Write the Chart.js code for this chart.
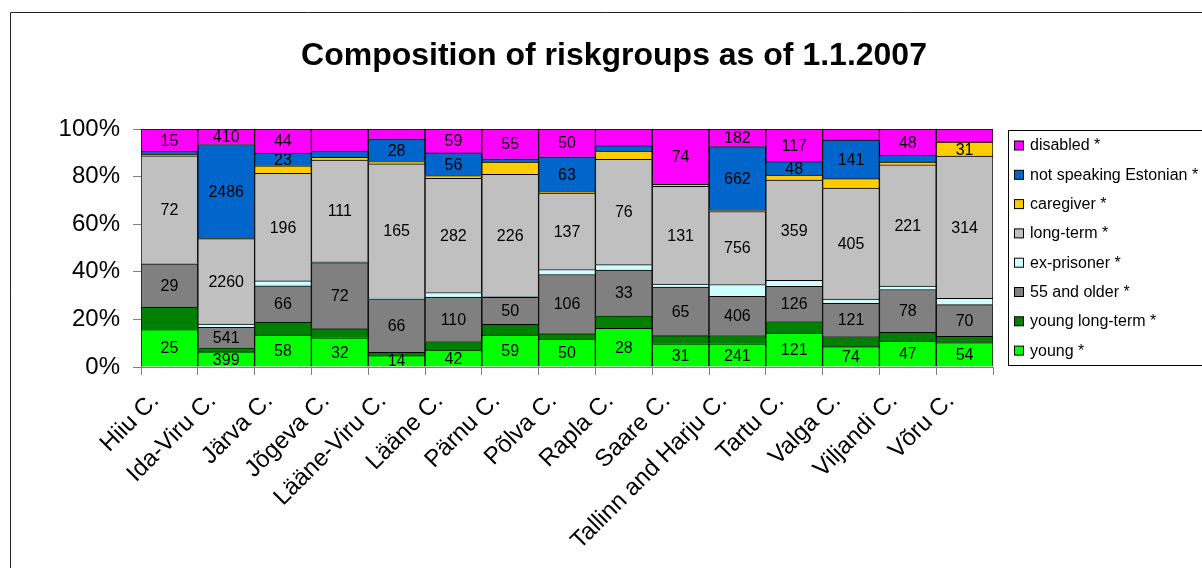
<!DOCTYPE html>
<html>
<head>
<meta charset="utf-8">
<script src="https://cdn.jsdelivr.net/npm/chart.js@4.4.1/dist/chart.umd.min.js"></script>
<style>
  html, body { margin: 0; padding: 0; background: #fff; }
  #wrap { width: 1202px; height: 568px; position: relative; }
</style>
</head>
<body>
<div id="wrap"><canvas id="c" width="1202" height="568"></canvas></div>
<script>
// ---- data (counts) ----
const categories = ['Hiiu C.', 'Ida-Viru C.', 'Järva C.', 'Jõgeva C.', 'Lääne-Viru C.', 'Lääne C.', 'Pärnu C.', 'Põlva C.', 'Rapla C.', 'Saare C.', 'Tallinn and Harju C.', 'Tartu C.', 'Valga C.', 'Viljandi C.', 'Võru C.'];
const young         = [25, 399, 58, 32, 14, 42, 59, 50, 28, 31, 241, 121, 74, 47, 54];
const youngLongTerm = [15, 108, 24, 10, 4, 21, 20, 10, 9, 11, 85, 42, 37, 16, 14];
const older55       = [29, 541, 66, 72, 66, 110, 50, 106, 33, 65, 406, 126, 121, 78, 70];
const exPrisoner    = [0, 90, 9, 1, 1, 11, 1, 9, 4, 4, 122, 21, 15, 6, 14];
const longTerm      = [72, 2260, 196, 111, 165, 282, 226, 137, 76, 131, 756, 359, 405, 221, 314];
const caregiver     = [1, 5, 14, 3, 3, 7, 23, 2, 6, 3, 10, 18, 34, 5, 31];
const notSpeaking   = [2, 2486, 23, 7, 28, 56, 6, 63, 4, 0, 662, 48, 141, 12, 1];
const disabled      = [15, 410, 44, 24, 12, 59, 55, 50, 12, 74, 182, 117, 40, 48, 28];
const seriesNames   = ['young *', 'young long-term *', '55 and older *', 'ex-prisoner *', 'long-term *', 'caregiver *', 'not speaking Estonian *', 'disabled *'];
const yTicks        = [0, 20, 40, 60, 80, 100];
// which categories carry a value label, per series
const labelledYoung = 'all';
const labelledYoungLongTerm = [];
const labelledOlder55 = 'all';
const labelledExPrisoner = [];
const labelledLongTerm = 'all';
const labelledCaregiver = [14];
const labelledNotSpeaking = [1, 2, 4, 5, 7, 10, 11, 12];
const labelledDisabled = [0, 1, 2, 5, 6, 7, 9, 10, 11, 13];
const titleText = 'Composition of riskgroups as of 1.1.2007';

// ---- build ----
const seriesValues = [young, youngLongTerm, older55, exPrisoner, longTerm, caregiver, notSpeaking, disabled];
const seriesLabelled = [labelledYoung, labelledYoungLongTerm, labelledOlder55, labelledExPrisoner, labelledLongTerm, labelledCaregiver, labelledNotSpeaking, labelledDisabled];
const colors = ['#00FF00', '#008000', '#808080', '#CCFFFF', '#C0C0C0', '#FFCC00', '#0066CC', '#FF00FF'];
const totals = categories.map((_, i) => seriesValues.reduce((s, arr) => s + arr[i], 0));

const FONT = "'Liberation Sans', Arial, Helvetica, sans-serif";

const datasets = seriesValues.map((arr, k) => ({
  label: seriesNames[k],
  data: arr.map((v, i) => v / totals[i] * 100),
  raw: arr,
  labelled: seriesLabelled[k],
  backgroundColor: colors[k],
  borderColor: '#000',
  borderWidth: 1,
  barPercentage: 1,
  categoryPercentage: 1
}));

const decorPlugin = {
  id: 'decor',
  afterDatasetsDraw(chart) {
    const ctx = chart.ctx;
    ctx.save();
    ctx.font = '16px ' + FONT;
    ctx.fillStyle = '#000';
    ctx.textAlign = 'center';
    ctx.textBaseline = 'middle';
    chart.data.datasets.forEach((ds, k) => {
      const meta = chart.getDatasetMeta(k);
      meta.data.forEach((el, i) => {
        const show = ds.labelled === 'all' || (Array.isArray(ds.labelled) && ds.labelled.includes(i));
        if (!show) return;
        const y = (el.y + el.base) / 2;
        ctx.fillText(String(ds.raw[i]), el.x, y + 1);
      });
    });
    ctx.restore();
  },
  afterDraw(chart) {
    const ctx = chart.ctx;
    ctx.save();
    // outer frame (left and top edges visible)
    ctx.strokeStyle = '#222';
    ctx.lineWidth = 1;
    ctx.beginPath();
    ctx.moveTo(10.5, 568);
    ctx.lineTo(10.5, 12.5);
    ctx.lineTo(1202, 12.5);
    ctx.stroke();
    // title
    ctx.font = 'bold 32px ' + FONT;
    ctx.fillStyle = '#000';
    ctx.textAlign = 'center';
    ctx.textBaseline = 'alphabetic';
    ctx.fillText(titleText, 614, 65);
    // legend box
    ctx.strokeStyle = '#000';
    ctx.strokeRect(1008.5, 130.5, 220, 235);
    const n = chart.data.datasets.length;
    ctx.font = '16px ' + FONT;
    ctx.textAlign = 'left';
    ctx.textBaseline = 'middle';
    for (let j = 0; j < n; j++) {
      const ds = chart.data.datasets[n - 1 - j];
      const cy = 146 + j * 29.3;
      ctx.fillStyle = ds.backgroundColor;
      ctx.fillRect(1014.5, cy - 5, 9, 9);
      ctx.strokeStyle = '#000';
      ctx.strokeRect(1014.5, cy - 5, 9, 9);
      ctx.fillStyle = '#000';
      ctx.fillText(ds.label, 1030, cy);
    }
    ctx.restore();
  }
};

new Chart(document.getElementById('c'), {
  type: 'bar',
  data: { labels: categories, datasets },
  options: {
    responsive: false,
    animation: false,
    devicePixelRatio: 1,
    layout: { padding: { left: 0, right: 209, top: 129, bottom: 0 } },
    plugins: {
      legend: { display: false },
      title: { display: false },
      tooltip: { enabled: false }
    },
    scales: {
      x: {
        stacked: true,
        afterFit(s) { s.height = 201; },
        grid: { display: true, drawOnChartArea: false, drawTicks: true, tickLength: 8, color: '#808080', offset: true },
        border: { display: true, color: '#808080' },
        ticks: {
          minRotation: 45, maxRotation: 45, autoSkip: false,
          labelOffset: -14, padding: 12,
          color: '#000', font: { family: FONT, size: 24 }
        }
      },
      y: {
        stacked: true,
        min: 0, max: 100,
        afterFit(s) { s.width = 141; },
        afterBuildTicks(s) { s.ticks = yTicks.map(v => ({ value: v })); },
        grid: { display: true, drawOnChartArea: false, drawTicks: true, tickLength: 8, color: '#808080' },
        border: { display: true, color: '#808080' },
        ticks: {
          padding: 13,
          color: '#000',
          font: { family: FONT, size: 24 },
          callback: v => v + '%'
        }
      }
    }
  },
  plugins: [decorPlugin]
});
</script>
</body>
</html>
